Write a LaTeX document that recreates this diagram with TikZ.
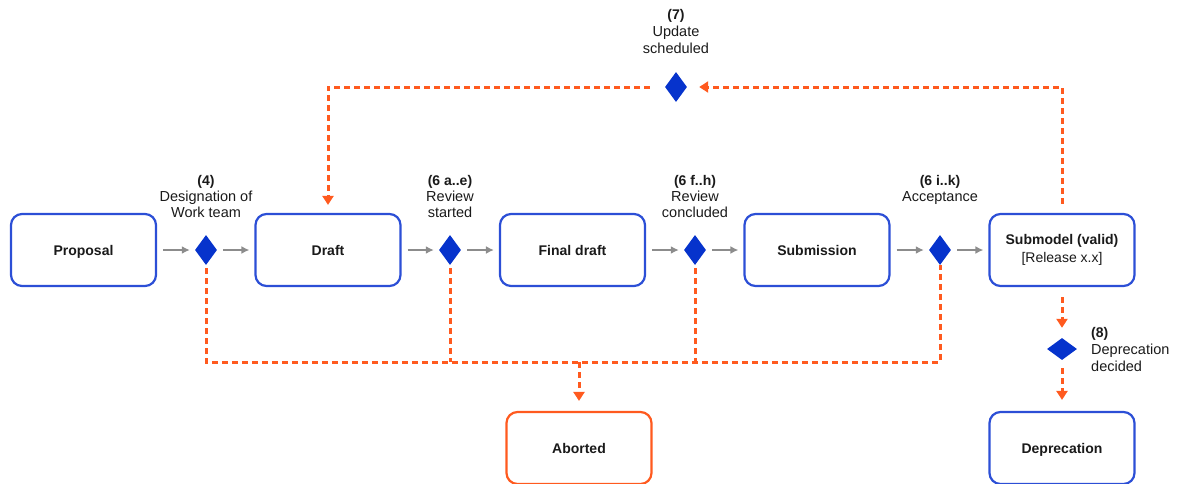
\documentclass[tikz,border=0pt]{standalone}
\usepackage{fontspec}
\setmainfont{Liberation Sans}
\usetikzlibrary{shapes.geometric,arrows.meta}
\definecolor{bblue}{HTML}{2C4FD6}
\definecolor{dblue}{HTML}{0633CC}
\definecolor{orng}{HTML}{FF5A1F}
\definecolor{gry}{HTML}{8C8C8C}
\definecolor{txt}{HTML}{1A1A1A}
\begin{document}
\begin{tikzpicture}[x=1pt,y=-1pt,
  box/.style={draw=bblue, line width=2.2pt, rounded corners=11pt, minimum width=145pt, minimum height=72pt,
    font=\fontsize{14}{17}\selectfont\bfseries, align=center, text=txt, fill=white},
  sbox/.style={box, text height=10pt, text depth=0pt},
  abox/.style={sbox, draw=orng},
  dia/.style={diamond, fill=dblue, draw=none, minimum width=22pt, minimum height=30pt, inner sep=0pt},
  hdia/.style={diamond, fill=dblue, draw=none, minimum width=30pt, minimum height=22pt, inner sep=0pt},
  lbl/.style={anchor=base, inner sep=0pt, font=\fontsize{14.5}{16}\selectfont, text=txt},
  lblb/.style={lbl, font=\fontsize{14}{16}\selectfont\bfseries},
  garrow/.style={draw=gry, line width=2.4pt, -{Latex[length=8pt,width=8pt]}, shorten <=6pt, shorten >=5pt},
  odash/.style={draw=orng, line width=3pt, dash pattern=on 6pt off 4pt},
  oarrow/.style={odash, -{Triangle[length=9pt,width=11pt]}}
]
\useasboundingbox (0,0) rectangle (1181,483);

% boxes
\node[sbox] (P) at (83.5,250) {Proposal};
\node[sbox] (D) at (328,250) {Draft};
\node[sbox] (F) at (572.5,250) {Final draft};
\node[sbox] (S) at (817,250) {Submission};
\node[box] (M) at (1062,250) {Submodel (valid)\\[1pt]{\mdseries [Release x.x]}};
\node[abox] (A) at (579,448) {Aborted};
\node[sbox] (Dep) at (1062,448) {Deprecation};

% diamonds
\node[dia] (d4) at (206,250) {};
\node[dia] (d6a) at (450,250) {};
\node[dia] (d6f) at (695,250) {};
\node[dia] (d6i) at (940,250) {};
\node[dia] (d7) at (676,87) {};
\node[hdia] (d8) at (1062,349) {};

% labels
\node[lblb] (l4a) at (206,185) {(4)};
\node[lbl] (l4b) at (206,201) {Designation of};
\node[lbl] (l4c) at (206,217) {Work team};
\node[lblb] (l6aa) at (450,185) {(6 a..e)};
\node[lbl] (l6ab) at (450,201) {Review};
\node[lbl] (l6ac) at (450,217) {started};
\node[lblb] (l6fa) at (695,185) {(6 f..h)};
\node[lbl] (l6fb) at (695,201) {Review};
\node[lbl] (l6fc) at (695,217) {concluded};
\node[lblb] (l6ia) at (940,185) {(6 i..k)};
\node[lbl] (l6ib) at (940,201) {Acceptance};
\node[lblb] (l7a) at (676,19) {(7)};
\node[lbl] (l7b) at (676,36) {Update};
\node[lbl] (l7c) at (676,53) {scheduled};
\node[lblb, anchor=base west] (l8a) at (1091,337) {(8)};
\node[lbl, anchor=base west] (l8b) at (1091,354) {Deprecation};
\node[lbl, anchor=base west] (l8c) at (1091,371) {decided};

% gray flow arrows
\draw[garrow] (P) -- (d4);
\draw[garrow] (d4) -- (D);
\draw[garrow] (D) -- (d6a);
\draw[garrow] (d6a) -- (F);
\draw[garrow] (F) -- (d6f);
\draw[garrow] (d6f) -- (S);
\draw[garrow] (S) -- (d6i);
\draw[garrow] (d6i) -- (M);

% abort lines
\coordinate (j4) at (206,362);
\coordinate (j6a) at (450,362);
\coordinate (j6f) at (695,362);
\coordinate (j6i) at (940,362);
\coordinate (jA) at (579,362);
\draw[odash, shorten <=3pt] (d4.south) -- (j4) -- (j6i) -- (d6i.south);
\draw[odash, shorten <=3pt] (d6a.south) -- (j6a);
\draw[odash, shorten <=3pt] (d6f.south) -- (j6f);
\draw[oarrow, shorten >=10pt] (jA) -- (A.north);

% update loop
\coordinate (tM) at (1062,87);
\coordinate (tD) at (328,87);
\draw[oarrow, shorten <=9pt, shorten >=12pt] (M.north) -- (tM) -- (d7.east);
\draw[oarrow, shorten <=15pt, shorten >=8pt] (d7.west) -- (tD) -- (D.north);

% deprecation
\draw[oarrow, shorten <=10pt, shorten >=10pt] (M.south) -- (d8.north);
\draw[oarrow, shorten <=8pt, shorten >=11pt] (d8.south) -- (Dep.north);
\end{tikzpicture}
\end{document}
